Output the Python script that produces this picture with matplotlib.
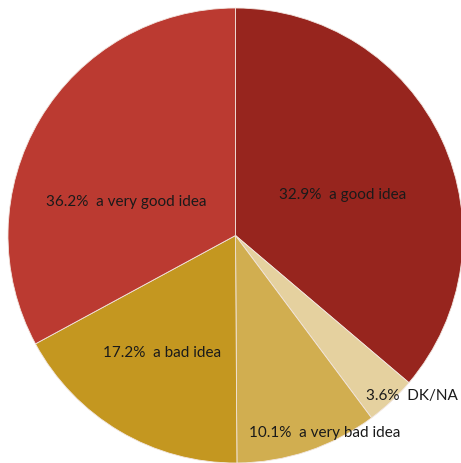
import matplotlib.pyplot as plt

# ---------------------------- data ----------------------------
categories = ['a good idea', 'DK/NA', 'a very bad idea', 'a bad idea', 'a very good idea']
# wedge sizes as drawn in the source picture
wedge_sizes = [36.2, 3.6, 10.1, 17.2, 32.9]
# percentages as printed on the labels of the source picture
label_pct = [32.9, 3.6, 10.1, 17.2, 36.2]
colors = ['#97251e', '#e5d19f', '#d1ae50', '#c49720', '#bb3a31']

# label anchor points (pixels, from top-left of the image)
label_xy = [(343, 195), (412, 396), (325, 433), (162, 353), (126, 202)]

W, H = 461, 463
cx, cy, r = 235.5, 235.5, 227.5

fig = plt.figure(figsize=(W / 100, H / 100), dpi=100)
ax = fig.add_axes([0, 0, 1, 1])

ax.pie(wedge_sizes, colors=colors, startangle=90, counterclock=False,
       center=(cx, H - cy), radius=r, frame=True,
       wedgeprops=dict(edgecolor='#f2e6e0', linewidth=0.6))
ax.set_xlim(0, W)
ax.set_ylim(0, H)
ax.set_aspect('equal')
ax.axis('off')

for cat, val, (x, y) in zip(categories, label_pct, label_xy):
    ax.text(x, H - y, f'{val:.1f}%  {cat}', ha='center', va='center',
            fontsize=11, color='#1a1a1a', family='Lato')

fig.savefig('out.png', dpi=100)
